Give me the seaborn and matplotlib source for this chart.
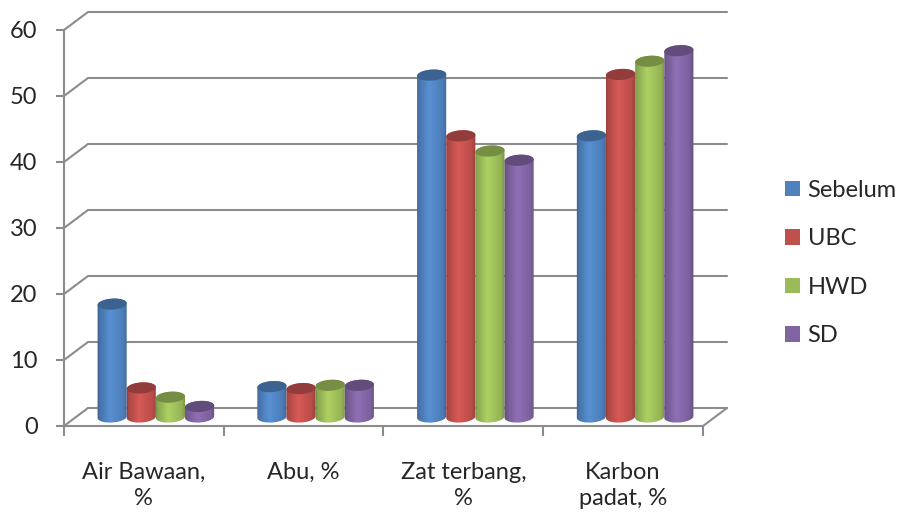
import numpy as np
import pandas as pd
import matplotlib
matplotlib.use("Agg")
import matplotlib.pyplot as plt
import seaborn as sns
from matplotlib.patches import Patch, PathPatch
from matplotlib.path import Path
from matplotlib.transforms import IdentityTransform, Affine2D

categories = ["Air Bawaan,\n%", "Abu, %", "Zat terbang,\n%", "Karbon\npadat, %"]
series_names = ["Sebelum", "UBC", "HWD", "SD"]
sebelum = [17.1, 4.6, 51.8, 42.6]
ubc = [4.4, 4.3, 42.6, 51.9]
hwd = [3.0, 4.8, 40.3, 53.9]
sd = [1.6, 4.8, 38.9, 55.5]
colors = ["#4F81BD", "#C0504D", "#9BBB59", "#8064A2"]
y_ticks = [0, 10, 20, 30, 40, 50, 60]

W, H = 903, 514
GRID = "#8C8C8C"
TEXT = "#262626"
FONT_SIZE = 17

sns.set_style("white")
plt.rcParams["font.family"] = ["Lato", "DejaVu Sans"]

frame = pd.DataFrame({
    "kategori": np.repeat(categories, len(series_names)),
    "seri": series_names * len(categories),
    "nilai": np.array([sebelum, ubc, hwd, sd]).T.ravel(),
})

fig = plt.figure(figsize=(W / 100, H / 100), dpi=100)
ax = fig.add_axes([64 / W, (H - 426) / H, 639 / W, 396 / H])

sns.barplot(data=frame, x="kategori", y="nilai", hue="seri", order=categories,
            hue_order=series_names, palette=colors, saturation=1, width=0.73,
            gap=0, legend=False, ax=ax)
ax.set_xlim(-0.5, 3.5)
ax.set_ylim(0, 60)
ax.set_xlabel("")
ax.set_ylabel("")

# Perspective of the floor and back wall, in pixels
DEPTH_X, DEPTH_Y = 24, 18
px = IdentityTransform()


def to_px(x, y):
    return ax.transData.transform((x, y))


# Back-wall grid lines with their diagonals to the front axis
for v in y_ticks:
    x0, y0 = to_px(-0.5, v)
    x1, _ = to_px(3.5, v)
    ax.plot([x0, x0 + DEPTH_X, x1 + DEPTH_X], [y0, y0 + DEPTH_Y, y0 + DEPTH_Y],
            color=GRID, lw=1.5, transform=px, clip_on=False, zorder=1,
            solid_joinstyle="miter")
x1, y1 = to_px(3.5, 0)
ax.plot([x1, x1 + DEPTH_X], [y1, y1 + DEPTH_Y], color=GRID, lw=1.5,
        transform=px, clip_on=False, zorder=1)

# Cylinders built on the seaborn bars, set halfway into the floor
shade_stops = [0, 0.1, 0.42, 0.82, 1]
shade_vals = [0.66, 0.88, 1.12, 0.96, 0.7]
RY = 5.5
TILT = np.deg2rad(4)


def ring(cx, cy, rx, theta):
    ex, ey = rx * np.cos(theta), RY * np.sin(theta)
    return np.column_stack([cx + ex * np.cos(TILT) - ey * np.sin(TILT),
                            cy + ex * np.sin(TILT) + ey * np.cos(TILT)])


for i, bar in enumerate(list(ax.patches)):
    x = bar.get_x()
    w = bar.get_width()
    h = bar.get_height()
    base = np.array(bar.get_facecolor()[:3])
    left, bottom = to_px(x, 0)
    right, top = to_px(x + w, h)
    left += DEPTH_X / 2
    right += DEPTH_X / 2
    bottom += DEPTH_Y / 2
    top += DEPTH_Y / 2
    cx = (left + right) / 2
    rx = (right - left) / 2
    lower = ring(cx, bottom, rx, np.linspace(np.pi, 2 * np.pi, 40))
    upper = ring(cx, top, rx, np.linspace(0, np.pi, 40))
    outline = Path(np.vstack([lower, upper, lower[:1]]))
    order = 3 + i % 4 * 0.1

    bar.set_transform(Affine2D().translate(DEPTH_X / 2, DEPTH_Y / 2) + ax.transData)
    bar.set_clip_path(outline, px)
    bar.set_zorder(order)

    t = np.linspace(0, 1, 64)
    shade = np.interp(t, shade_stops, shade_vals)
    strip = np.clip(base[None, None, :] * shade[None, :, None], 0, 1)
    image = ax.imshow(strip, aspect="auto", interpolation="bilinear",
                      extent=[left - 2, right + 2, bottom - 8, top + 8],
                      zorder=order + 0.01)
    image.set_transform(px)
    image.set_clip_path(outline, px)

    cap = ring(cx, top, rx, np.linspace(0, 2 * np.pi, 80))
    ax.add_patch(PathPatch(Path(cap), facecolor=base * 0.76, edgecolor="none",
                           transform=px, clip_on=False, zorder=order + 0.02))

ax.set_xlim(-0.5, 3.5)
ax.set_ylim(0, 60)
ax.set_aspect("auto")

# Front axes
for side in ("top", "right"):
    ax.spines[side].set_visible(False)
for side in ("left", "bottom"):
    ax.spines[side].set_color(GRID)
    ax.spines[side].set_linewidth(1.5)
    ax.spines[side].set_zorder(2)
ax.set_yticks(y_ticks)
ax.set_xticks(np.arange(len(categories)))
ax.set_xticklabels(categories, linespacing=1.3)
ax.set_xticks(np.arange(-0.5, len(categories)), minor=True)
ax.tick_params(axis="y", left=True, length=6, width=1.5, color=GRID,
               labelsize=FONT_SIZE, labelcolor=TEXT, pad=13)
ax.tick_params(axis="x", which="major", bottom=False, length=0,
               labelsize=FONT_SIZE, labelcolor=TEXT, pad=26)
ax.tick_params(axis="x", which="minor", bottom=True, length=7, width=1.5, color=GRID)

handles = [Patch(facecolor=c, edgecolor="none", label=n)
           for c, n in zip(colors, series_names)]
fig.legend(handles=handles, loc="center left", bbox_to_anchor=(785 / W, 1 - 263 / H),
           frameon=False, fontsize=FONT_SIZE, labelcolor=TEXT, handlelength=0.64,
           handleheight=0.64, handletextpad=0.32, labelspacing=1.16,
           borderpad=0, borderaxespad=0)

fig.savefig("out.png", dpi=100)
